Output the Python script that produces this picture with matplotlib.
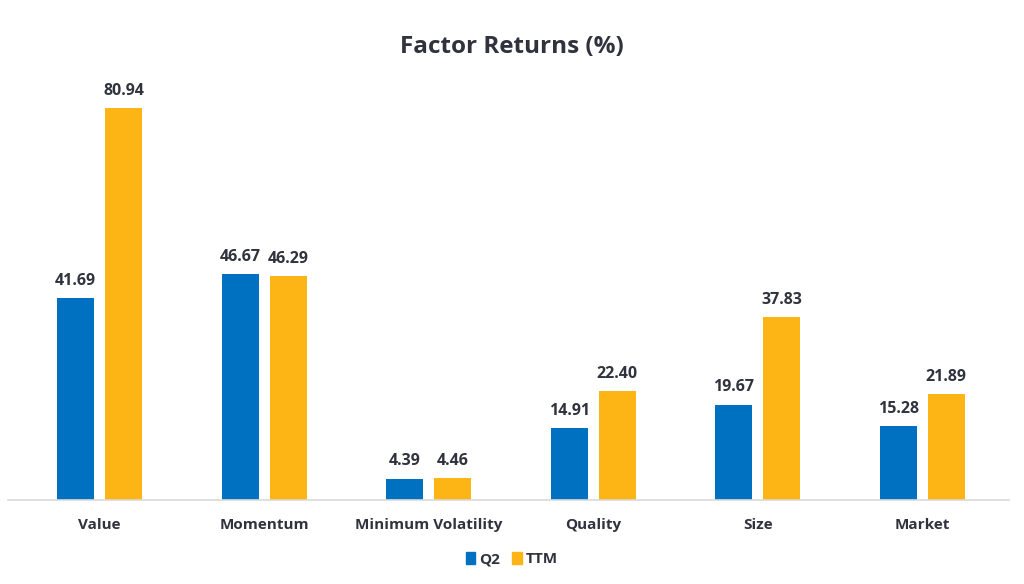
import numpy as np
import matplotlib.pyplot as plt
from matplotlib.patches import Patch

# Factor returns
factors = ['Value', 'Momentum', 'Minimum Volatility', 'Quality', 'Size', 'Market']
q2 = [41.69, 46.67, 4.39, 14.91, 19.67, 15.28]
ttm = [80.94, 46.29, 4.46, 22.40, 37.83, 21.89]

blue = '#0070C0'
gold = '#FDB516'
text_col = '#30323D'

plt.rcParams['font.family'] = ['Open Sans', 'DejaVu Sans']

fig = plt.figure(figsize=(10.24, 5.84), dpi=100)
ax = fig.add_axes([0.017, 0.144, 0.964, 0.746])

x = np.arange(len(factors))
w = 0.225
off = 0.146
b1 = ax.bar(x - off, q2, w, color=blue)
b2 = ax.bar(x + off, ttm, w, color=gold)

for bars, vals in ((b1, q2), (b2, ttm)):
    for b, v in zip(bars, vals):
        ax.text(b.get_x() + b.get_width() / 2, v + 1.9, f'{v:.2f}',
                ha='center', va='bottom', fontsize=11.5, fontweight='bold', color=text_col)

ax.set_xlim(-0.5, len(factors) - 0.5)
ax.set_ylim(0, 90)
ax.set_xticks(x)
ax.set_xticklabels(factors, fontsize=11, fontweight='bold', color=text_col)
ax.tick_params(axis='x', length=0, pad=13)
ax.set_yticks([])
for s in ['top', 'right', 'left']:
    ax.spines[s].set_visible(False)
ax.spines['bottom'].set_color('#D9D9D9')
ax.spines['bottom'].set_linewidth(1.2)
ax.spines['bottom'].set_bounds(-0.56, len(factors) - 0.47)
ax.spines['bottom'].set_clip_on(False)

fig.text(0.5, 0.92, 'Factor Returns (%)', ha='center', va='center',
         fontsize=17.5, fontweight='bold', color=text_col)

handles = [Patch(color=blue, label='Q2'), Patch(color=gold, label='TTM')]
leg = fig.legend(handles=handles, loc='center', bbox_to_anchor=(0.5, 0.043), ncol=2,
                 frameon=False, handlelength=0.6, handleheight=0.9, handletextpad=0.3,
                 columnspacing=0.8, prop={'weight': 'bold', 'size': 11})
for t in leg.get_texts():
    t.set_color(text_col)

fig.savefig('out.png', dpi=100)
